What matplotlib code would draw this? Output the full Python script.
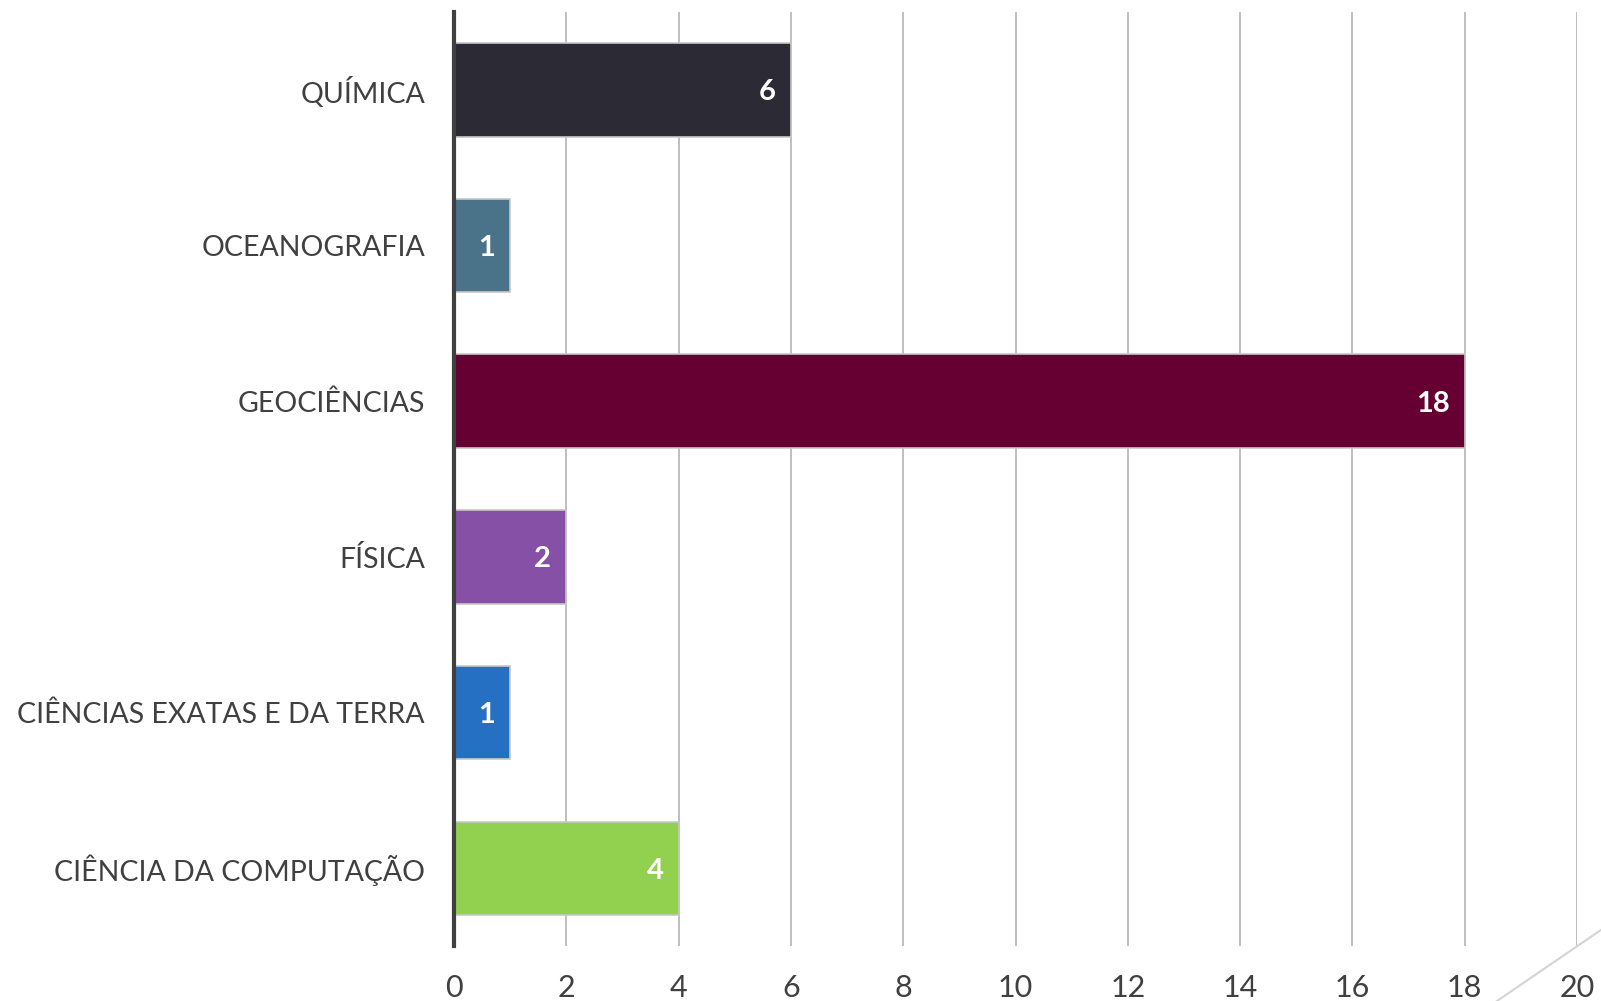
import matplotlib.pyplot as plt
from matplotlib.lines import Line2D

# categories listed bottom -> top
categorias = ["CIÊNCIA DA COMPUTAÇÃO", "CIÊNCIAS EXATAS E DA TERRA", "FÍSICA",
              "GEOCIÊNCIAS", "OCEANOGRAFIA", "QUÍMICA"]
valores = [4, 1, 2, 18, 1, 6]
cores = ["#92d050", "#2670c4", "#8650a6", "#660033", "#4a7289", "#2b2a35"]
xticks = list(range(0, 21, 2))

plt.rcParams['font.family'] = ['Lato', 'DejaVu Sans']

fig = plt.figure(figsize=(16.01, 10.01), dpi=100)
ax = fig.add_axes([0.2836, 0.0549, 0.985 - 0.2836, 0.988 - 0.0549])

pos = list(range(len(categorias)))
bars = ax.barh(pos, valores, height=0.6, color=cores, edgecolor="#c8c8c8",
               linewidth=1.2, zorder=3)

for b, v in zip(bars, valores):
    ax.annotate(str(v), (b.get_width(), b.get_y() + b.get_height() / 2),
                xytext=(-11, 0), textcoords="offset points", ha="right",
                va="center_baseline", color="white", fontsize=21,
                fontweight="bold", zorder=4)

ax.set_xlim(0, 20)
ax.set_ylim(-0.5, 5.5)
ax.set_xticks(xticks)
ax.set_yticks(pos)
ax.set_yticklabels(categorias)
ax.tick_params(axis="y", length=0, pad=21, labelsize=20.5, labelcolor="#404040")
ax.tick_params(axis="x", length=0, pad=20, labelsize=22, labelcolor="#404040")

ax.grid(axis="x", color="#b4b4b4", linewidth=1.2, zorder=0)
ax.set_axisbelow(True)
for s in ["top", "right", "bottom"]:
    ax.spines[s].set_visible(False)
ax.spines["left"].set_color("#404040")
ax.spines["left"].set_linewidth(3)
ax.spines["left"].set_zorder(5)

# decorative diagonal in the bottom-right corner
fig.add_artist(Line2D([0.935, 1.0], [0.0, 0.071], transform=fig.transFigure,
                      color="#d4d4d4", linewidth=1.5))

fig.savefig("out.png", dpi=100)
